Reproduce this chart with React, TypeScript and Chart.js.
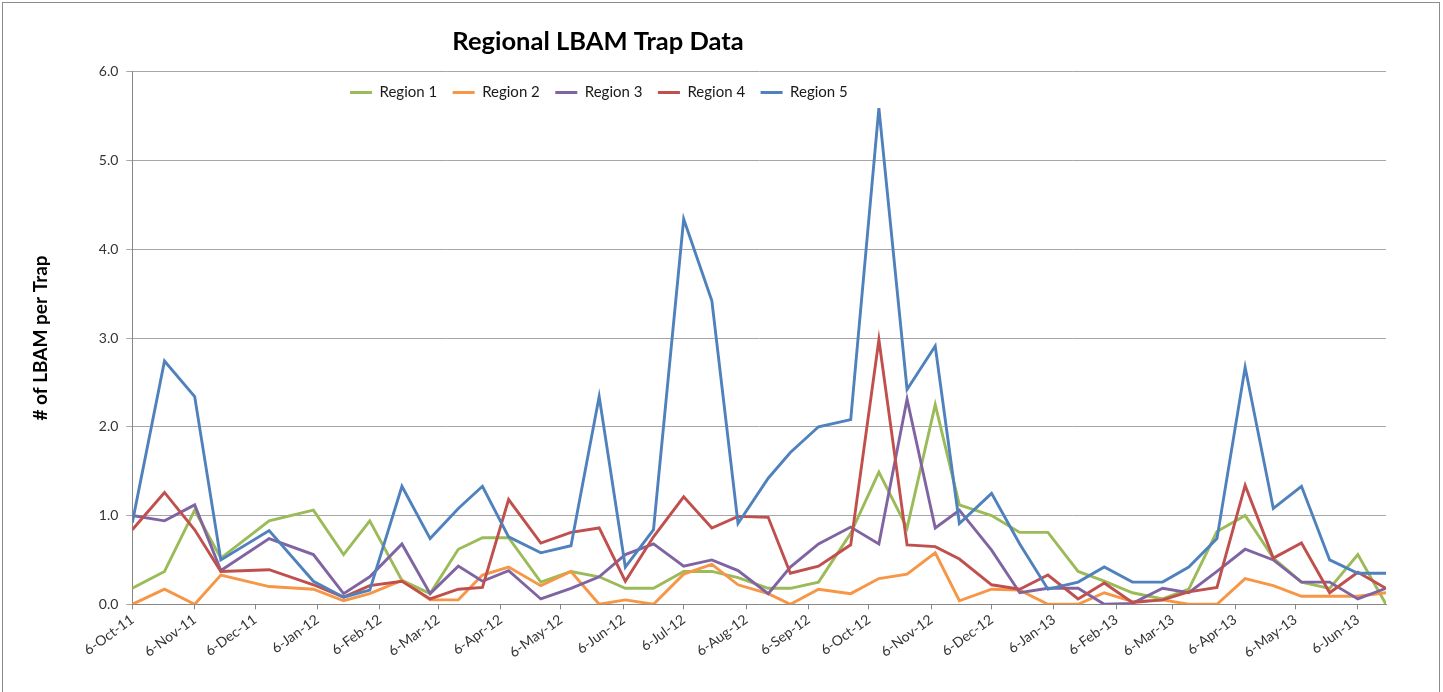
import React, { useEffect, useRef } from 'react';
import { Chart, registerables } from 'chart.js';

Chart.register(...registerables);

// ---- data ----
const sampleDates = [
  '2011-10-06', '2011-10-22', '2011-11-06', '2011-11-19', '2011-12-13', '2012-01-04',
  '2012-01-19', '2012-02-01', '2012-02-17', '2012-03-02', '2012-03-16', '2012-03-28',
  '2012-04-10', '2012-04-26', '2012-05-11', '2012-05-25', '2012-06-07', '2012-06-21',
  '2012-07-06', '2012-07-20', '2012-08-02', '2012-08-17', '2012-08-28', '2012-09-11',
  '2012-09-27', '2012-10-11', '2012-10-25', '2012-11-08', '2012-11-20', '2012-12-06',
  '2012-12-20', '2013-01-03', '2013-01-18', '2013-01-31', '2013-02-14', '2013-03-01',
  '2013-03-14', '2013-03-28', '2013-04-11', '2013-04-25', '2013-05-09', '2013-05-23',
  '2013-06-06', '2013-06-20',
];

const region1 = [
  0.18, 0.37, 1.06, 0.52, 0.94, 1.06, 0.56, 0.94, 0.27, 0.12, 0.62, 0.75,
  0.75, 0.25, 0.37, 0.31, 0.18, 0.18, 0.37, 0.37, 0.30, 0.18, 0.18, 0.25,
  0.80, 1.49, 0.86, 2.25, 1.12, 1.00, 0.81, 0.81, 0.37, 0.26, 0.13, 0.06,
  0.17, 0.82, 1.00, 0.52, 0.25, 0.18, 0.56, 0.00,
];
const region2 = [
  0.00, 0.17, 0.00, 0.33, 0.20, 0.17, 0.04, 0.12, 0.27, 0.05, 0.05, 0.33,
  0.42, 0.21, 0.37, 0.00, 0.05, 0.00, 0.34, 0.45, 0.22, 0.12, 0.00, 0.17,
  0.12, 0.29, 0.34, 0.58, 0.04, 0.17, 0.16, 0.00, 0.00, 0.13, 0.03, 0.05,
  0.00, 0.00, 0.29, 0.21, 0.09, 0.09, 0.09, 0.13,
];
const region3 = [
  1.00, 0.94, 1.12, 0.38, 0.74, 0.56, 0.12, 0.31, 0.68, 0.12, 0.43, 0.26,
  0.38, 0.06, 0.18, 0.31, 0.56, 0.68, 0.43, 0.50, 0.38, 0.12, 0.42, 0.68,
  0.87, 0.68, 2.31, 0.86, 1.06, 0.61, 0.13, 0.18, 0.18, 0.00, 0.01, 0.18,
  0.13, 0.37, 0.62, 0.50, 0.25, 0.25, 0.06, 0.18,
];
const region4 = [
  0.84, 1.26, 0.84, 0.37, 0.39, 0.22, 0.08, 0.21, 0.26, 0.06, 0.17, 0.19,
  1.18, 0.69, 0.81, 0.86, 0.26, 0.76, 1.21, 0.86, 0.99, 0.98, 0.35, 0.43,
  0.67, 2.98, 0.67, 0.65, 0.51, 0.22, 0.17, 0.33, 0.06, 0.24, 0.02, 0.05,
  0.14, 0.19, 1.34, 0.52, 0.69, 0.13, 0.36, 0.18,
];
const region5 = [
  0.92, 2.74, 2.34, 0.50, 0.83, 0.26, 0.08, 0.16, 1.33, 0.74, 1.08, 1.33,
  0.76, 0.58, 0.66, 2.34, 0.42, 0.84, 4.34, 3.42, 0.91, 1.42, 1.71, 2.00,
  2.08, 5.59, 2.42, 2.91, 0.91, 1.25, 0.68, 0.17, 0.25, 0.42, 0.25, 0.25,
  0.42, 0.74, 2.67, 1.08, 1.33, 0.50, 0.35, 0.35,
];

const seriesNames = ['Region 1', 'Region 2', 'Region 3', 'Region 4', 'Region 5'];
const seriesValues = [region1, region2, region3, region4, region5];
const seriesColors = ['#9BBB59', '#F79646', '#8064A2', '#C0504D', '#4F81BD'];

const xTickLabels = [
  '6-Oct-11', '6-Nov-11', '6-Dec-11', '6-Jan-12', '6-Feb-12', '6-Mar-12', '6-Apr-12',
  '6-May-12', '6-Jun-12', '6-Jul-12', '6-Aug-12', '6-Sep-12', '6-Oct-12', '6-Nov-12',
  '6-Dec-12', '6-Jan-13', '6-Feb-13', '6-Mar-13', '6-Apr-13', '6-May-13', '6-Jun-13',
];

const chartTitle = 'Regional LBAM Trap Data';
const yAxisTitle = '# of LBAM per Trap';

// ---- helpers ----
const MONTHS = ['Jan', 'Feb', 'Mar', 'Apr', 'May', 'Jun', 'Jul', 'Aug', 'Sep', 'Oct', 'Nov', 'Dec'];
const DAY_MS = 86400000;
const isoToUtc = (s: string) => {
  const [y, m, d] = s.split('-').map(Number);
  return Date.UTC(y, m - 1, d);
};
const ORIGIN = isoToUtc(sampleDates[0]);
const isoToDay = (s: string) => Math.round((isoToUtc(s) - ORIGIN) / DAY_MS);
const labelToDay = (s: string) => {
  const [d, mon, yy] = s.split('-');
  return Math.round((Date.UTC(2000 + Number(yy), MONTHS.indexOf(mon), Number(d)) - ORIGIN) / DAY_MS);
};

const FONT = 'Lato, "Open Sans", "DejaVu Sans", sans-serif';

// legend placement inside the plot (Excel-style overlay)
const LEGEND_X = 350;
const LEGEND_CENTER_Y = 92.5;

const layoutPlugin = {
  id: 'excelLayout',
  beforeLayout(chart: any) {
    const lg = chart.legend;
    if (lg && !lg.__patched) {
      const origFit = lg.fit.bind(lg);
      lg.fit = function () {
        origFit();
        this.height = 0;
      };
      lg.__patched = true;
    }
  },
  beforeDraw(chart: any) {
    const { ctx, width, height } = chart;
    ctx.save();
    ctx.fillStyle = '#ffffff';
    ctx.fillRect(0, 0, width, height);
    ctx.strokeStyle = '#8c8c8c';
    ctx.lineWidth = 1;
    ctx.strokeRect(2.5, 2.5, width - 6, height + 10);
    ctx.restore();
  },
  afterLayout(chart: any) {
    const lg = chart.legend;
    if (lg) {
      const pad = lg.options.labels.padding;
      const fs = lg.options.labels.font.size;
      const w = lg.right - lg.left;
      lg.left = LEGEND_X - pad;
      lg.right = lg.left + w;
      lg.top = LEGEND_CENTER_Y - fs / 2 - pad;
      lg.bottom = lg.top + fs + pad * 2 + 4;
      lg.height = lg.bottom - lg.top;
    }
    const tb = chart.titleBlock;
    if (tb) {
      const dx = 598 - (tb.left + tb.right) / 2;
      tb.left += dx;
      tb.right += dx;
    }
  },
};

export default function App() {
  const canvasRef = useRef<HTMLCanvasElement | null>(null);

  useEffect(() => {
    document.body.style.margin = '0';
    const canvas = canvasRef.current;
    if (!canvas) return;
    const xs = sampleDates.map(isoToDay);
    const datasets = seriesNames.map((name, i) => ({
      label: name,
      data: seriesValues[i].map((v, j) => ({ x: xs[j], y: v })),
      borderColor: seriesColors[i],
      backgroundColor: seriesColors[i],
      borderWidth: 2.9,
      pointRadius: 0,
      pointHoverRadius: 0,
      tension: 0,
      fill: false,
      order: seriesNames.length - i,
    }));

    const chart = new Chart(canvas, {
      type: 'line',
      data: { datasets },
      plugins: [layoutPlugin],
      options: {
        animation: false,
        responsive: false,
        events: [],
        layout: { padding: { left: 24, right: 57, top: 0, bottom: 0 } },
        plugins: {
          title: {
            display: true,
            text: chartTitle,
            color: '#000',
            font: { family: FONT, size: 25.5, weight: 'bold', lineHeight: 1.2 },
            padding: { top: 26.7, bottom: 14.4 },
          },
          legend: {
            position: 'top',
            align: 'start',
            labels: {
              usePointStyle: true,
              pointStyle: 'line',
              pointStyleWidth: 22,
              boxHeight: 15,
              padding: 15.5,
              color: '#1a1a1a',
              font: { family: FONT, size: 15 },
              sort: (a: any, b: any) => a.datasetIndex - b.datasetIndex,
            },
          },
          tooltip: { enabled: false },
        },
        scales: {
          x: {
            type: 'linear',
            min: 0,
            max: isoToDay(sampleDates[sampleDates.length - 1]),
            afterBuildTicks: (scale: any) => {
              scale.ticks = xTickLabels.map((l) => ({ value: labelToDay(l) }));
            },
            afterFit: (scale: any) => {
              scale.height = 87.7;
            },
            ticks: {
              autoSkip: false,
              maxRotation: 36,
              minRotation: 36,
              padding: 2,
              color: '#333',
              font: { family: FONT, size: 14 },
              callback: (_v: any, i: number) => xTickLabels[i],
            },
            grid: {
              drawOnChartArea: false,
              drawTicks: true,
              tickLength: 5,
              color: '#868686',
            },
            border: { display: true, color: '#868686', width: 1 },
          },
          y: {
            min: 0,
            max: 6,
            afterFit: (scale: any) => {
              scale.width = 108.3;
            },
            ticks: {
              stepSize: 1,
              padding: 8,
              color: '#333',
              font: { family: FONT, size: 14 },
              callback: (v: any) => Number(v).toFixed(1),
            },
            grid: { color: '#a6a6a6', lineWidth: 1, tickLength: 6 },
            border: { display: true, color: '#868686', width: 1 },
            title: {
              display: true,
              text: yAxisTitle,
              color: '#000',
              font: { family: FONT, size: 19, weight: 'bold' },
              padding: { top: 5, bottom: 0 },
            },
          },
        },
      },
    });
    return () => chart.destroy();
  }, []);

  return (
    <div style={{ width: 1443, height: 692, position: 'relative', overflow: 'hidden' }}>
      <canvas ref={canvasRef} width={1443} height={692} style={{ display: 'block' }} />
    </div>
  );
}
